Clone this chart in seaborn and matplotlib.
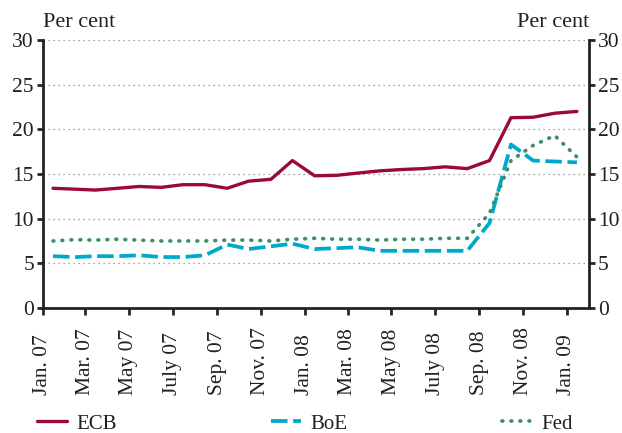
import pandas as pd
import numpy as np
import seaborn as sns
import matplotlib.pyplot as plt

months = pd.date_range("2007-01-01", periods=25, freq="MS") + pd.Timedelta(days=14)

ecb = [13.4, 13.3, 13.2, 13.4, 13.6, 13.5, 13.8, 13.8, 13.4, 14.2, 14.4, 16.5, 14.8,
       14.85, 15.1, 15.35, 15.5, 15.6, 15.8, 15.6, 16.5, 21.3, 21.35, 21.8, 22.0]
boe = [5.8, 5.7, 5.8, 5.8, 5.9, 5.7, 5.7, 5.9, 7.1, 6.6, 6.9, 7.2, 6.6,
       6.7, 6.8, 6.4, 6.4, 6.4, 6.4, 6.4, 9.5, 18.3, 16.5, 16.4, 16.3]
fed = [7.5, 7.65, 7.6, 7.7, 7.6, 7.5, 7.5, 7.5, 7.6, 7.6, 7.5, 7.7, 7.8,
       7.7, 7.7, 7.6, 7.7, 7.7, 7.8, 7.8, 10.6, 16.5, 18.2, 19.3, 16.9]

tick_labels = ["Jan. 07", "Mar. 07", "May 07", "July 07", "Sep. 07", "Nov. 07", "Jan. 08",
               "Mar. 08", "May 08", "July 08", "Sep. 08", "Nov. 08", "Jan. 09"]

df = pd.DataFrame({"date": list(months) * 3,
                   "value": ecb + boe + fed,
                   "series": ["ECB"] * 25 + ["BoE"] * 25 + ["Fed"] * 25})

sns.set_style("ticks")
plt.rcParams['font.family'] = ['Liberation Serif', 'DejaVu Serif']
txt = "#231f20"

fig = plt.figure(figsize=(6.22, 4.33), dpi=100)
ax = fig.add_axes([0.0691, 0.2887, 0.878, 0.619])

palette = {"ECB": "#9b0a35", "BoE": "#00a9cc", "Fed": "#3f8f6f"}
styles = {"ECB": "-", "BoE": (0, (4.4, 1.5)), "Fed": (0, (0.2, 2.2))}
for name in ["ECB", "BoE", "Fed"]:
    sub = df[df["series"] == name]
    sns.lineplot(data=sub, x="date", y="value", ax=ax, color=palette[name],
                 linewidth=2.4 if name == "ECB" else 2.7, label=name,
                 linestyle=styles[name],
                 dash_capstyle="round" if name == "Fed" else "butt")

ax.set_xlim(pd.Timestamp("2007-01-01"), pd.Timestamp("2009-02-01"))
ax.set_ylim(0, 30)
ax.set_yticks(range(0, 31, 5))
ticks = pd.date_range("2007-01-01", periods=13, freq="2MS")
ax.set_xticks(ticks)
ax.set_xticklabels(tick_labels, rotation=90, fontsize=15.5, color=txt,
                   va="bottom", ha="center")
ax.set_xlabel("")
ax.set_ylabel("")
ax.tick_params(axis="y", labelsize=15.5, labelcolor=txt, length=4.5, width=2,
               right=True, labelright=True, direction="out", pad=2)
ax.tick_params(axis="x", length=5, width=2, direction="out", pad=58)
ax.grid(axis="y", linestyle=(0, (1, 3)), color="#888888", linewidth=0.9)

for s in ["left", "right", "bottom"]:
    ax.spines[s].set_linewidth(2)
    ax.spines[s].set_color("#222222")
ax.spines["top"].set_visible(False)

ax.text(0.0, 1.03, "Per cent", transform=ax.transAxes, fontsize=16, color=txt,
        ha="left", va="bottom")
ax.text(1.0, 1.03, "Per cent", transform=ax.transAxes, fontsize=16, color=txt,
        ha="right", va="bottom")

ax.get_legend().remove()
handles, labels = ax.get_legend_handles_labels()
fig.legend(handles, labels, loc="lower center", bbox_to_anchor=(0.49, -0.045), ncol=3,
           frameon=False, fontsize=15, columnspacing=7.4, handlelength=1.45,
           handletextpad=0.45, labelcolor=txt)

fig.savefig("out.png", dpi=100)
